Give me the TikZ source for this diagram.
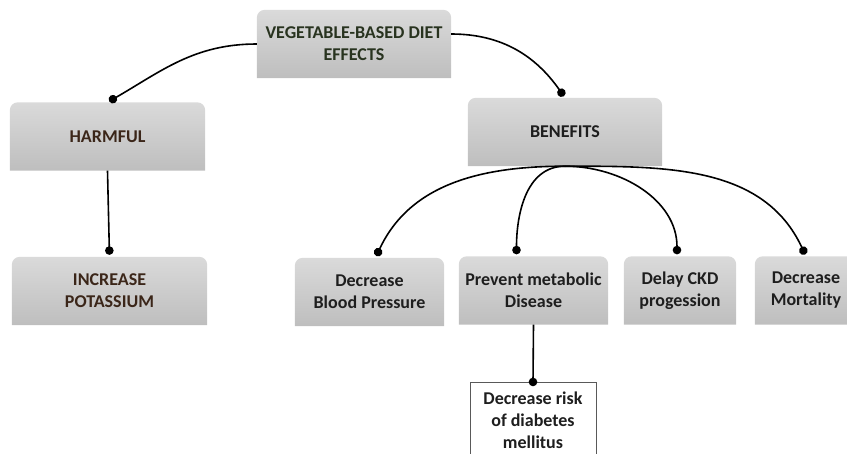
\documentclass[tikz,border=0pt]{standalone}
\usepackage{fontspec}
\setmainfont{Carlito}
\usetikzlibrary{arrows.meta,backgrounds}
\definecolor{BoxTop}{HTML}{DADADA}
\definecolor{BoxBottom}{HTML}{BEBEBE}
\definecolor{RootText}{HTML}{28331F}
\definecolor{HarmText}{HTML}{3B2619}
\definecolor{MainText}{HTML}{1E1E1E}
\tikzset{every node/.style={font=\bfseries\fontsize{18}{22}\selectfont,align=center,inner sep=0pt}}
\tikzset{effectbox/.style={minimum height=68pt,text=MainText}}
\tikzset{riskbox/.style={draw=gray!70!black,line width=0.6pt,fill=white,minimum width=126pt,minimum height=76pt,text=MainText}}
\tikzset{link/.style={line width=1.6pt,-{Circle[length=8.5pt]},shorten >=2pt}}

\begin{document}
\begin{tikzpicture}[x=1pt,y=1pt]
  \useasboundingbox (0,0) rectangle (847,-453);
  % --- top level ---
  \node[effectbox,minimum width=194pt,text=RootText] (root) at (354,-44) {VEGETABLE-BASED DIET\\EFFECTS};
  % --- second level ---
  \node[effectbox,minimum width=195pt,text=HarmText] (harm) at (107.5,-136.5) {HARMFUL};
  \node[effectbox,minimum width=194pt] (benef) at (565,-132) {BENEFITS};
  % --- harmful branch ---
  \node[effectbox,minimum width=195pt,text=HarmText] (pot) at (109.5,-291) {INCREASE\\POTASSIUM};
  % --- benefit branch ---
  \node[effectbox,minimum width=149pt] (dbp) at (369.5,-292) {Decrease\\Blood Pressure};
  \node[effectbox,minimum width=149pt] (pmd) at (533.5,-290.5) {Prevent metabolic\\Disease};
  \node[effectbox,minimum width=112pt] (dckd) at (680,-290.5) {Delay CKD\\progession};
  \node[effectbox,minimum width=102pt] (dm) at (806,-290.5) {Decrease\\Mortality};
  \node[riskbox] (risk) at (533,-420.5) {Decrease risk\\of diabetes\\mellitus};
  % --- grey boxes, round top corners only ---
  \begin{scope}[on background layer]
    \foreach \n in {root,harm,benef,pot,dbp,pmd,dckd,dm}
      \shade[top color=BoxTop,bottom color=BoxBottom]
        (\n.south west) [rounded corners=8pt] -- (\n.north west) -- (\n.north east) [sharp corners] -- (\n.south east) -- cycle;
  \end{scope}
  % --- connectors ---
  \draw[link] (root.west) to[out=180,in=30] (harm.north);
  \draw[link] ([yshift=10pt]root.east) to[out=0,in=125] (benef.north);
  \draw[link] (harm.south) -- (pot.north);
  \draw[link] (benef.south) to[out=180,in=65] ([xshift=6pt]dbp.north);
  \draw[link] (benef.south) to[out=180,in=90] ([xshift=-17pt]pmd.north);
  \draw[link] (benef.south) to[out=0,in=90] ([xshift=-3pt]dckd.north);
  \draw[link] (benef.south) to[out=0,in=115] (dm.north);
  \draw[link,shorten >=-4pt] (pmd.south) -- (risk.north);
\end{tikzpicture}
\end{document}
